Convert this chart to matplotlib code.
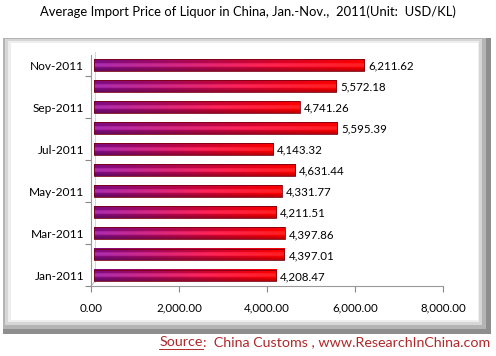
import numpy as np
import matplotlib
matplotlib.use("Agg")
import matplotlib.pyplot as plt
from matplotlib.patches import Rectangle
from matplotlib.lines import Line2D

plt.rcParams['font.family'] = ['Lato', 'DejaVu Sans']

# data
months = ['Jan-2011', 'Feb-2011', 'Mar-2011', 'Apr-2011', 'May-2011', 'Jun-2011',
          'Jul-2011', 'Aug-2011', 'Sep-2011', 'Oct-2011', 'Nov-2011']
prices = [4208.47, 4397.01, 4397.86, 4211.51, 4331.77, 4631.44,
          4143.32, 5595.39, 4741.26, 5572.18, 6211.62]
xticks = [0, 2000, 4000, 6000, 8000]

W, H = 496, 356
fig = plt.figure(figsize=(W / 100, H / 100), dpi=100)


def px_rect(x0, y0, x1, y1, color, z):
    # rectangle given in pixel coords (top-left origin)
    fig.patches.append(Rectangle((x0 / W, 1 - y1 / H), (x1 - x0) / W, (y1 - y0) / H,
                                 transform=fig.transFigure, fc=color, ec='none', zorder=z))


# grey frame with shadow on the right / bottom
px_rect(3, 38, 491, 334, '#8e8e8e', 0)
px_rect(3, 38, 486, 329, '#b4b4b4', 0.1)
px_rect(5, 39, 482, 325, '#d6d6d6', 0.2)
px_rect(8, 41, 479, 322, '#eeeeee', 0.3)
px_rect(11, 43, 478, 320, 'white', 0.4)

ax = fig.add_axes([91 / W, 1 - 286 / H, 352 / W, 231.5 / H])
ax.set_zorder(2)
ax.patch.set_alpha(0)

# gradient for bars: purple -> red, with a cylinder-like vertical shading
purple = np.array([0.50, 0.05, 0.52])
red = np.array([1.0, 0.0, 0.0])
t = np.linspace(0, 1, 200)
cols = purple[None, :] * (1 - t[:, None]) + red[None, :] * t[:, None]
v = np.linspace(-1, 1, 20)
shade = 0.75 + 0.35 * np.cos(v * np.pi / 2.2) ** 2
shade[:7] += np.linspace(0.25, 0, 7)
img = np.clip(cols[None, :, :] * shade[:, None, None] + (shade[:, None, None] > 1.05) * 0.12, 0, 1)

h = 0.56
for i, val in enumerate(prices):
    ax.imshow(img, extent=(60, val, i - h / 2, i + h / 2), aspect='auto',
              interpolation='bilinear', zorder=3, origin='upper')
    ax.add_patch(Rectangle((60, i - h / 2), val - 60, h, fc='none', ec='#7a0010',
                           lw=0.6, zorder=4))
    ax.text(val + 90, i - 0.05, f'{val:,.2f}', va='center', ha='left', fontsize=8.3,
            color='black', zorder=5)

ax.set_xlim(0, 8000)
ax.set_ylim(-0.5, len(months) - 0.5)

ax.set_xticks(xticks)
ax.set_xticklabels([f'{x:,.2f}' for x in xticks], fontsize=8.3)
ax.set_yticks(np.arange(-0.5, len(months), 2))
ax.set_yticklabels([])
ax.set_yticks(np.arange(0, len(months), 2), minor=True)
ax.set_yticklabels(months[::2], minor=True, fontsize=8.6)
ax.tick_params(axis='y', which='minor', length=0, pad=5)
ax.tick_params(axis='y', which='major', length=4, color='#888888', direction='out')
ax.tick_params(axis='x', length=4, color='#888888', direction='out', pad=8)

for s in ['top', 'right']:
    ax.spines[s].set_visible(False)
for s in ['left', 'bottom']:
    ax.spines[s].set_color('#999999')
    ax.spines[s].set_linewidth(0.8)

# small 3d floor/wall offset lines
ax.plot([0, 0.01], [-0.5, -0.3], transform=ax.get_yaxis_transform(), color='#aaaaaa', lw=0.6, clip_on=False)
ax.plot([0.01, 0.01], [-0.3, 10.6], transform=ax.get_yaxis_transform(), color='#cccccc', lw=0.6, clip_on=False)

fig.text(0.5, 1 - 12 / H, 'Average Import Price of Liquor in China, Jan.-Nov.,  2011(Unit:  USD/KL)',
         ha='center', va='center', fontsize=9.4)

src_col = '#b0282a'
t2 = fig.text(490 / W, 1 - 342 / H, ':  China Customs , www.ResearchInChina.com',
              ha='right', va='center', fontsize=10.3, color=src_col)
fig.canvas.draw()
bb = t2.get_window_extent()
x0 = bb.x0 / fig.bbox.width
t1 = fig.text(x0, 1 - 342 / H, 'Source', ha='right', va='center', fontsize=10.3, color=src_col)
fig.canvas.draw()
bb1 = t1.get_window_extent()
fig.add_artist(Line2D([bb1.x0 / fig.bbox.width, bb1.x1 / fig.bbox.width],
                      [(bb1.y0 - 1) / fig.bbox.height] * 2, color=src_col, lw=0.7))

fig.savefig('out.png', dpi=100)
